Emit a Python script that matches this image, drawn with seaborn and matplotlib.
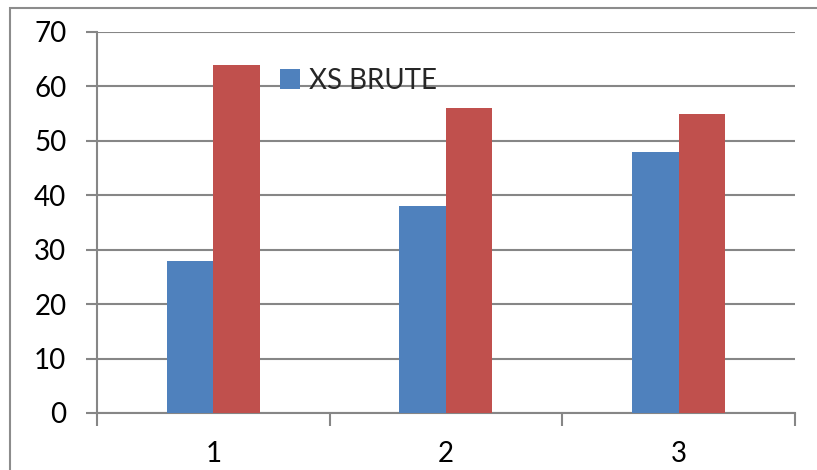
import matplotlib
matplotlib.use("Agg")
import matplotlib.pyplot as plt
import seaborn as sns
import pandas as pd
from matplotlib.patches import Rectangle

# données
categories = ["1", "2", "3"]
xs_brute = [28, 38, 48]
autre = [64, 56, 55]
series_names = ["XS BRUTE", "Série 2"]
yticks = [0, 10, 20, 30, 40, 50, 60, 70]

df = pd.DataFrame({
    "cat": categories * 2,
    "val": xs_brute + autre,
    "serie": [series_names[0]] * 3 + [series_names[1]] * 3,
})

sns.set_theme(style="white")
plt.rcParams["font.family"] = ["Lato", "DejaVu Sans"]

grey = "#868686"
fs = 20
fig = plt.figure(figsize=(8.17, 4.70), dpi=100)
ax = fig.add_axes([0.1187, 0.1213, 0.973 - 0.1187, 0.932 - 0.1213])

# cadre autour du graphique (coupé à droite et en bas)
fig.patches.append(Rectangle((10 / 817, -0.05), 1.1, 0.983 + 0.05, transform=fig.transFigure,
                             fill=False, edgecolor="#8c8c8c", linewidth=1.5, zorder=0))

sns.barplot(data=df, x="cat", y="val", hue="serie", palette=["#4F81BD", "#C0504D"],
            width=0.4, gap=0, saturation=1, linewidth=0, ax=ax, zorder=3)

ax.set_ylim(0, 70)
ax.set_xlim(-0.5, 2.5)
ax.set_yticks(yticks)
ax.set_yticklabels([str(t) for t in yticks], fontsize=fs, color="black")
ax.yaxis.grid(True, color=grey, linewidth=1.5, zorder=0)
ax.set_axisbelow(True)

# graduations aux limites des catégories, libellés au centre
ax.set_xticks([-0.5, 0.5, 1.5, 2.5])
ax.set_xticklabels([])
ax.set_xticks([0, 1, 2], minor=True)
ax.set_xticklabels(categories, minor=True, fontsize=fs, color="black")
ax.tick_params(axis="x", which="major", direction="out", length=9, width=1.5, color=grey, bottom=True)
ax.tick_params(axis="x", which="minor", length=0, pad=20)
ax.tick_params(axis="y", direction="out", length=8, width=1.5, color=grey, left=True, pad=14)

for s in ["top", "right"]:
    ax.spines[s].set_visible(False)
for s in ["left", "bottom"]:
    ax.spines[s].set_color(grey)
    ax.spines[s].set_linewidth(1.5)

ax.set_xlabel("")
ax.set_ylabel("")

handles, labels = ax.get_legend_handles_labels()
ax.legend(handles[:1], labels[:1], loc="upper left", bbox_to_anchor=(0.2425, 0.943),
          frameon=False, borderpad=0, fontsize=fs, handlelength=0.7, handleheight=0.7,
          handletextpad=0.35)

fig.savefig("out.png", dpi=100)
